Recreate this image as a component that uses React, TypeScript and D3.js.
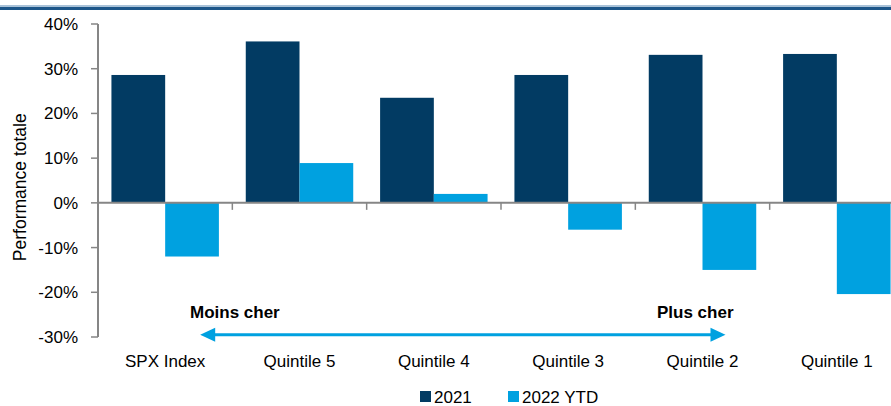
import React, { useEffect, useRef } from 'react'
import * as d3 from 'd3'

const categories = ['SPX Index', 'Quintile 5', 'Quintile 4', 'Quintile 3', 'Quintile 2', 'Quintile 1']
const seriesNames = ['2021', '2022 YTD']
const values2021 = [28.6, 36.1, 23.5, 28.6, 33.1, 33.3]
const values2022 = [-12.0, 8.9, 2.0, -6.0, -15.0, -20.4]
const yTicks = [-30, -20, -10, 0, 10, 20, 30, 40]
const colors = ['#023b63', '#00a1e0']

const width = 891
const height = 406

const App = () => {
  const ref = useRef<SVGGElement>(null)

  useEffect(() => {
    const left = 98
    const right = 904
    const top = 24
    const bottom = 337
    const font = '"Liberation Sans", Arial, sans-serif'

    const svg = d3.select(ref.current)
    svg.selectAll('*').remove()

    const x0 = d3.scaleBand().domain(categories).range([left, right]).paddingInner(0.2).paddingOuter(0.1)
    const x1 = d3.scaleBand().domain(seriesNames).range([0, x0.bandwidth()])
    const y = d3.scaleLinear().domain([-30, 40]).range([bottom, top])
    const step = x0.step()

    const rows = categories.map((c, i) => ({ cat: c, vals: [values2021[i], values2022[i]] }))

    const g = svg.append('g')
    rows.forEach(r => {
      r.vals.forEach((v, j) => {
        g.append('rect')
          .attr('x', x0(r.cat)! + x1(seriesNames[j])!)
          .attr('width', x1.bandwidth())
          .attr('y', y(Math.max(0, v)))
          .attr('height', Math.abs(y(v) - y(0)))
          .attr('fill', colors[j])
      })
    })

    // y axis
    const axisColor = '#868686'
    svg.append('line').attr('x1', left).attr('x2', left).attr('y1', y(40)).attr('y2', y(-30))
      .attr('stroke', axisColor).attr('stroke-width', 2)
    yTicks.forEach(t => {
      svg.append('line').attr('x1', left - 7).attr('x2', left).attr('y1', y(t)).attr('y2', y(t))
        .attr('stroke', axisColor).attr('stroke-width', 1.5)
      svg.append('text').attr('x', 78).attr('y', y(t)).attr('dy', '0.35em')
        .attr('text-anchor', 'end').attr('font-family', font).attr('font-size', 17)
        .attr('fill', '#000').text(`${t}%`)
    })

    // zero line and category ticks
    svg.append('line').attr('x1', left).attr('x2', right).attr('y1', y(0)).attr('y2', y(0))
      .attr('stroke', axisColor).attr('stroke-width', 2)
    d3.range(1, categories.length).forEach(i => {
      const xt = left + i * step
      svg.append('line').attr('x1', xt).attr('x2', xt).attr('y1', y(0)).attr('y2', y(0) + 7)
        .attr('stroke', axisColor).attr('stroke-width', 1.5)
    })

    categories.forEach(c => {
      svg.append('text').attr('x', x0(c)! + x0.bandwidth() / 2).attr('y', 367)
        .attr('text-anchor', 'middle').attr('font-family', font).attr('font-size', 17)
        .attr('fill', '#000').text(c)
    })

    // y title
    svg.append('text').attr('transform', `translate(26,${y(3.5)}) rotate(-90)`)
      .attr('text-anchor', 'middle').attr('font-family', font).attr('font-size', 17.5)
      .attr('fill', '#000').text('Performance totale')

    // arrow annotation
    const ax1 = x0(categories[0])! + x1('2022 YTD')! + 35
    const ax2 = x0(categories[4])! + x1('2022 YTD')! + 23
    const ay = y(-29.5)
    const arrowColor = '#00a1e0'
    svg.append('line').attr('x1', ax1 + 12).attr('x2', ax2 - 12).attr('y1', ay).attr('y2', ay)
      .attr('stroke', arrowColor).attr('stroke-width', 3)
    svg.append('path').attr('d', `M${ax1},${ay} L${ax1 + 15},${ay - 7} L${ax1 + 15},${ay + 7} Z`).attr('fill', arrowColor)
    svg.append('path').attr('d', `M${ax2},${ay} L${ax2 - 15},${ay - 7} L${ax2 - 15},${ay + 7} Z`).attr('fill', arrowColor)
    svg.append('text').attr('x', 190).attr('y', 318).attr('font-family', font).attr('font-size', 17)
      .attr('font-weight', 'bold').attr('fill', '#000').text('Moins cher')
    svg.append('text').attr('x', 657).attr('y', 318).attr('font-family', font).attr('font-size', 17)
      .attr('font-weight', 'bold').attr('fill', '#000').text('Plus cher')

    // legend
    const legendX = [420, 508]
    seriesNames.forEach((s, j) => {
      svg.append('rect').attr('x', legendX[j]).attr('y', 391).attr('width', 11).attr('height', 11)
        .attr('fill', colors[j])
      svg.append('text').attr('x', legendX[j] + 14).attr('y', 402.5).attr('font-family', font)
        .attr('font-size', 17).attr('fill', '#000').text(s)
    })
  }, [])

  return (
    <div style={{ position: 'absolute', left: 0, top: 0, width, height, background: '#fff' }}>
      <svg width={width} height={height} style={{ display: 'block' }}>
        {/* header rule */}
        <rect x={0} y={5} width={width} height={2} fill="#a9c2d8" />
        <rect x={0} y={7} width={width} height={3} fill="#1d5689" />
        <g ref={ref} />
      </svg>
    </div>
  )
}

export default App
